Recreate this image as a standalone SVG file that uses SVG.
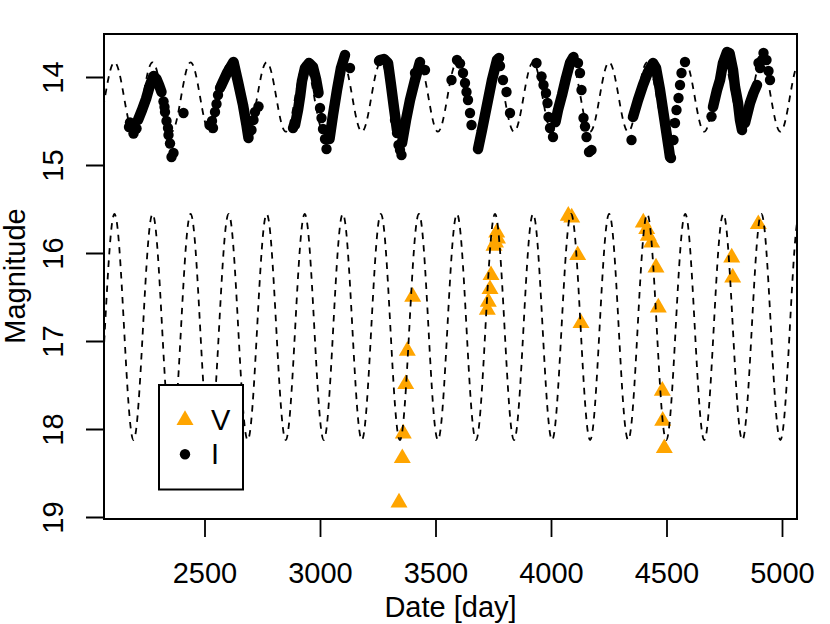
<svg xmlns="http://www.w3.org/2000/svg" xmlns:xlink="http://www.w3.org/1999/xlink" width="830" height="624" viewBox="0 0 830 624">
<style>
text{font-family:"Liberation Sans",Arial,Helvetica,sans-serif;font-size:29px;fill:#000}
.frame{fill:none;stroke:#000;stroke-width:2}
.tick{stroke:#000;stroke-width:1.8}
.curve{fill:none;stroke:#000;stroke-width:1.8;stroke-dasharray:6.5 6}
.run{fill:none;stroke:#000;stroke-width:10.5;stroke-linecap:round;stroke-linejoin:round}
.pt{fill:#000}
.v{fill:#FFA500}
</style>
<defs>
<clipPath id="plotclip"><rect x="104" y="34" width="693" height="485"/></clipPath>
<path id="tri" d="M0,-9.8 L8.5,4.9 L-8.5,4.9Z"/>
</defs>
<rect width="830" height="624" fill="#fff"/>

<g id="i-data" clip-path="url(#plotclip)">
<circle class="pt" cx="129" cy="127" r="5.2"/><circle class="pt" cx="130" cy="122.5" r="5.2"/><circle class="pt" cx="133.5" cy="133.5" r="5.2"/><circle class="pt" cx="136.5" cy="128.5" r="5.2"/>
<path class="run" d="M138,120 L142,110 L146,99 L150,85 L153.5,76 L156.5,79 L159,85 L161.5,92"/>
<circle class="pt" cx="163.5" cy="101.5" r="5.2"/><circle class="pt" cx="164.5" cy="107" r="5.2"/><circle class="pt" cx="165" cy="112" r="5.2"/><circle class="pt" cx="166.5" cy="121" r="5.2"/><circle class="pt" cx="168" cy="128" r="5.2"/><circle class="pt" cx="168.5" cy="135" r="5.2"/><circle class="pt" cx="170" cy="143.5" r="5.2"/><circle class="pt" cx="173.5" cy="153" r="5.2"/><circle class="pt" cx="171.5" cy="157" r="5.2"/><circle class="pt" cx="183.5" cy="113" r="5.2"/>
<circle class="pt" cx="209.5" cy="125" r="5.2"/><circle class="pt" cx="213" cy="128" r="5.2"/><circle class="pt" cx="212" cy="121" r="5.2"/><circle class="pt" cx="215" cy="112" r="5.2"/><circle class="pt" cx="216.5" cy="104" r="5.2"/><circle class="pt" cx="218" cy="95" r="5.2"/><circle class="pt" cx="220" cy="88" r="5.2"/>
<path class="run" d="M221,86 L227,73 L233.5,62 L238,82 L243,105 L246.5,125 L248.5,138"/>
<circle class="pt" cx="251.5" cy="130" r="5.2"/><circle class="pt" cx="253.5" cy="120" r="5.2"/><circle class="pt" cx="255" cy="112" r="5.2"/><circle class="pt" cx="258.5" cy="106.5" r="5.2"/>
<circle class="pt" cx="293" cy="128" r="5.2"/>
<path class="run" d="M295,125 L298,110 L300,97 L302,81 L305,68 L309,63 L313,67 L316,79 L318.5,93"/>
<circle class="pt" cx="320" cy="108" r="5.2"/><circle class="pt" cx="321.5" cy="118" r="5.2"/><circle class="pt" cx="323" cy="129" r="5.2"/><circle class="pt" cx="325" cy="139" r="5.2"/><circle class="pt" cx="326.5" cy="149" r="5.2"/>
<path class="run" d="M329.5,139 L333,115 L337,90 L341,68 L345,55"/>
<circle class="pt" cx="350" cy="68" r="5.2"/>
<circle class="pt" cx="379" cy="61" r="5.2"/>
<path class="run" d="M380,60 L384,59 L388,63 L391,85 L394,108 L397,130"/>
<circle class="pt" cx="395" cy="120" r="5.2"/><circle class="pt" cx="397" cy="133" r="5.2"/><circle class="pt" cx="398.5" cy="145" r="5.2"/><circle class="pt" cx="400" cy="150" r="5.2"/><circle class="pt" cx="401.5" cy="155" r="5.2"/>
<path class="run" d="M402,143 L406,120 L410,100 L415,80 L420,62"/>
<circle class="pt" cx="425" cy="70" r="5.2"/><circle class="pt" cx="415" cy="73" r="5.2"/>
<circle class="pt" cx="451.5" cy="80" r="5.2"/><circle class="pt" cx="457" cy="60" r="5.2"/><circle class="pt" cx="460" cy="63.5" r="5.2"/><circle class="pt" cx="463" cy="73" r="5.2"/><circle class="pt" cx="465" cy="83" r="5.2"/><circle class="pt" cx="466.5" cy="92" r="5.2"/><circle class="pt" cx="468" cy="100" r="5.2"/><circle class="pt" cx="470" cy="113" r="5.2"/><circle class="pt" cx="471.5" cy="125" r="5.2"/>
<path class="run" d="M478,149 L482,130 L487,105 L492,80 L497,60 L499,58"/>
<circle class="pt" cx="500" cy="66" r="5.2"/><circle class="pt" cx="503" cy="80" r="5.2"/><circle class="pt" cx="506.5" cy="92" r="5.2"/><circle class="pt" cx="510" cy="113" r="5.2"/>
<circle class="pt" cx="536.5" cy="63" r="5.2"/><circle class="pt" cx="541.5" cy="76.5" r="5.2"/><circle class="pt" cx="543.5" cy="85" r="5.2"/><circle class="pt" cx="546" cy="93" r="5.2"/><circle class="pt" cx="547.5" cy="103" r="5.2"/><circle class="pt" cx="548.5" cy="117" r="5.2"/><circle class="pt" cx="550" cy="128" r="5.2"/><circle class="pt" cx="553" cy="137" r="5.2"/>
<path class="run" d="M555.5,122 L558,110 L562,95 L566,78 L570,63 L573.5,57"/>
<circle class="pt" cx="578" cy="63" r="5.2"/><circle class="pt" cx="580" cy="73" r="5.2"/><circle class="pt" cx="581.5" cy="90" r="5.2"/><circle class="pt" cx="583.5" cy="118" r="5.2"/><circle class="pt" cx="585" cy="126.5" r="5.2"/><circle class="pt" cx="586.5" cy="137" r="5.2"/><circle class="pt" cx="591.5" cy="150" r="5.2"/><circle class="pt" cx="589" cy="152" r="5.2"/>
<circle class="pt" cx="631.5" cy="140" r="5.2"/>
<path class="run" d="M633,117 L638,100 L643,85 L648,72 L653,63 L656,68 L660,90 L663,110 L666,130 L669,150 L670,157"/>
<circle class="pt" cx="673.5" cy="140" r="5.2"/><circle class="pt" cx="671" cy="158" r="5.2"/><circle class="pt" cx="675" cy="123" r="5.2"/><circle class="pt" cx="676.5" cy="110" r="5.2"/><circle class="pt" cx="678.5" cy="98" r="5.2"/><circle class="pt" cx="680" cy="85" r="5.2"/><circle class="pt" cx="681.5" cy="73" r="5.2"/><circle class="pt" cx="685" cy="62" r="5.2"/>
<circle class="pt" cx="711.5" cy="116.5" r="5.2"/>
<path class="run" d="M713,107 L717,90 L720,80 L723,63 L727,52 L729.5,53 L733,70 L735,87 L738,103 L740,120 L742,130"/>
<path class="run" d="M745,123 L750,103 L753.5,93 L757,85"/>
<circle class="pt" cx="758.5" cy="63" r="5.2"/><circle class="pt" cx="760" cy="68" r="5.2"/><circle class="pt" cx="762" cy="60" r="5.2"/><circle class="pt" cx="763.5" cy="53" r="5.2"/><circle class="pt" cx="766.5" cy="60" r="5.2"/><circle class="pt" cx="768.5" cy="71" r="5.2"/><circle class="pt" cx="770" cy="80" r="5.2"/>
</g>

<g id="v-data">
<use xlink:href="#tri" class="v" x="412.7" y="296.8"/>
<use xlink:href="#tri" class="v" x="407.3" y="350.8"/>
<use xlink:href="#tri" class="v" x="405.7" y="384.2"/>
<use xlink:href="#tri" class="v" x="403.3" y="433.5"/>
<use xlink:href="#tri" class="v" x="402.3" y="458.2"/>
<use xlink:href="#tri" class="v" x="399" y="502.5"/>
<use xlink:href="#tri" class="v" x="496.7" y="232.5"/>
<use xlink:href="#tri" class="v" x="497.5" y="238.5"/>
<use xlink:href="#tri" class="v" x="495.5" y="242.5"/>
<use xlink:href="#tri" class="v" x="494" y="245.8"/>
<use xlink:href="#tri" class="v" x="491" y="275.2"/>
<use xlink:href="#tri" class="v" x="490" y="289.2"/>
<use xlink:href="#tri" class="v" x="488.3" y="301.8"/>
<use xlink:href="#tri" class="v" x="487.3" y="309.8"/>
<use xlink:href="#tri" class="v" x="568.3" y="215.8"/>
<use xlink:href="#tri" class="v" x="571.7" y="217.5"/>
<use xlink:href="#tri" class="v" x="577.7" y="255.2"/>
<use xlink:href="#tri" class="v" x="581" y="323.2"/>
<use xlink:href="#tri" class="v" x="643.3" y="222.5"/>
<use xlink:href="#tri" class="v" x="646.7" y="229.2"/>
<use xlink:href="#tri" class="v" x="648.3" y="235.8"/>
<use xlink:href="#tri" class="v" x="651.7" y="242.5"/>
<use xlink:href="#tri" class="v" x="656" y="267.5"/>
<use xlink:href="#tri" class="v" x="658.3" y="307.5"/>
<use xlink:href="#tri" class="v" x="662.3" y="390.8"/>
<use xlink:href="#tri" class="v" x="662.7" y="420.8"/>
<use xlink:href="#tri" class="v" x="664.3" y="448.2"/>
<use xlink:href="#tri" class="v" x="731.7" y="257.5"/>
<use xlink:href="#tri" class="v" x="732.7" y="277.5"/>
<use xlink:href="#tri" class="v" x="758.3" y="224.2"/>
</g>

<g id="model-curves" clip-path="url(#plotclip)">
<path class="curve" d="M85.96,327 c3.102,57.89 6.07,113 9.5125,113
s6.41,-55.11 9.5125,-113 s6.07,-113 9.5125,-113 s6.41,55.11 9.5125,113 s6.07,113 9.5125,113
s6.41,-55.11 9.5125,-113 s6.07,-113 9.5125,-113 s6.41,55.11 9.5125,113 s6.07,113 9.5125,113
s6.41,-55.11 9.5125,-113 s6.07,-113 9.5125,-113 s6.41,55.11 9.5125,113 s6.07,113 9.5125,113
s6.41,-55.11 9.5125,-113 s6.07,-113 9.5125,-113 s6.41,55.11 9.5125,113 s6.07,113 9.5125,113
s6.41,-55.11 9.5125,-113 s6.07,-113 9.5125,-113 s6.41,55.11 9.5125,113 s6.07,113 9.5125,113
s6.41,-55.11 9.5125,-113 s6.07,-113 9.5125,-113 s6.41,55.11 9.5125,113 s6.07,113 9.5125,113
s6.41,-55.11 9.5125,-113 s6.07,-113 9.5125,-113 s6.41,55.11 9.5125,113 s6.07,113 9.5125,113
s6.41,-55.11 9.5125,-113 s6.07,-113 9.5125,-113 s6.41,55.11 9.5125,113 s6.07,113 9.5125,113
s6.41,-55.11 9.5125,-113 s6.07,-113 9.5125,-113 s6.41,55.11 9.5125,113 s6.07,113 9.5125,113
s6.41,-55.11 9.5125,-113 s6.07,-113 9.5125,-113 s6.41,55.11 9.5125,113 s6.07,113 9.5125,113
s6.41,-55.11 9.5125,-113 s6.07,-113 9.5125,-113 s6.41,55.11 9.5125,113 s6.07,113 9.5125,113
s6.41,-55.11 9.5125,-113 s6.07,-113 9.5125,-113 s6.41,55.11 9.5125,113 s6.07,113 9.5125,113
s6.41,-55.11 9.5125,-113 s6.07,-113 9.5125,-113 s6.41,55.11 9.5125,113 s6.07,113 9.5125,113
s6.41,-55.11 9.5125,-113 s6.07,-113 9.5125,-113 s6.41,55.11 9.5125,113 s6.07,113 9.5125,113
s6.41,-55.11 9.5125,-113 s6.07,-113 9.5125,-113 s6.41,55.11 9.5125,113 s6.07,113 9.5125,113
s6.41,-55.11 9.5125,-113 s6.07,-113 9.5125,-113 s6.41,55.11 9.5125,113 s6.07,113 9.5125,113
s6.41,-55.11 9.5125,-113 s6.07,-113 9.5125,-113 s6.41,55.11 9.5125,113 s6.07,113 9.5125,113
s6.41,-55.11 9.5125,-113 s6.07,-113 9.5125,-113 s6.41,55.11 9.5125,113 s6.07,113 9.5125,113
s6.41,-55.11 9.5125,-113 s6.07,-113 9.5125,-113 s6.41,55.11 9.5125,113 s6.07,113 9.5125,113"/>
<path class="curve" d="M85.96,97 c3.102,17.78 6.07,34.7 9.5125,34.7
s6.41,-16.92 9.5125,-34.7 s6.07,-34.7 9.5125,-34.7 s6.41,16.92 9.5125,34.7 s6.07,34.7 9.5125,34.7
s6.41,-16.92 9.5125,-34.7 s6.07,-34.7 9.5125,-34.7 s6.41,16.92 9.5125,34.7 s6.07,34.7 9.5125,34.7
s6.41,-16.92 9.5125,-34.7 s6.07,-34.7 9.5125,-34.7 s6.41,16.92 9.5125,34.7 s6.07,34.7 9.5125,34.7
s6.41,-16.92 9.5125,-34.7 s6.07,-34.7 9.5125,-34.7 s6.41,16.92 9.5125,34.7 s6.07,34.7 9.5125,34.7
s6.41,-16.92 9.5125,-34.7 s6.07,-34.7 9.5125,-34.7 s6.41,16.92 9.5125,34.7 s6.07,34.7 9.5125,34.7
s6.41,-16.92 9.5125,-34.7 s6.07,-34.7 9.5125,-34.7 s6.41,16.92 9.5125,34.7 s6.07,34.7 9.5125,34.7
s6.41,-16.92 9.5125,-34.7 s6.07,-34.7 9.5125,-34.7 s6.41,16.92 9.5125,34.7 s6.07,34.7 9.5125,34.7
s6.41,-16.92 9.5125,-34.7 s6.07,-34.7 9.5125,-34.7 s6.41,16.92 9.5125,34.7 s6.07,34.7 9.5125,34.7
s6.41,-16.92 9.5125,-34.7 s6.07,-34.7 9.5125,-34.7 s6.41,16.92 9.5125,34.7 s6.07,34.7 9.5125,34.7
s6.41,-16.92 9.5125,-34.7 s6.07,-34.7 9.5125,-34.7 s6.41,16.92 9.5125,34.7 s6.07,34.7 9.5125,34.7
s6.41,-16.92 9.5125,-34.7 s6.07,-34.7 9.5125,-34.7 s6.41,16.92 9.5125,34.7 s6.07,34.7 9.5125,34.7
s6.41,-16.92 9.5125,-34.7 s6.07,-34.7 9.5125,-34.7 s6.41,16.92 9.5125,34.7 s6.07,34.7 9.5125,34.7
s6.41,-16.92 9.5125,-34.7 s6.07,-34.7 9.5125,-34.7 s6.41,16.92 9.5125,34.7 s6.07,34.7 9.5125,34.7
s6.41,-16.92 9.5125,-34.7 s6.07,-34.7 9.5125,-34.7 s6.41,16.92 9.5125,34.7 s6.07,34.7 9.5125,34.7
s6.41,-16.92 9.5125,-34.7 s6.07,-34.7 9.5125,-34.7 s6.41,16.92 9.5125,34.7 s6.07,34.7 9.5125,34.7
s6.41,-16.92 9.5125,-34.7 s6.07,-34.7 9.5125,-34.7 s6.41,16.92 9.5125,34.7 s6.07,34.7 9.5125,34.7
s6.41,-16.92 9.5125,-34.7 s6.07,-34.7 9.5125,-34.7 s6.41,16.92 9.5125,34.7 s6.07,34.7 9.5125,34.7
s6.41,-16.92 9.5125,-34.7 s6.07,-34.7 9.5125,-34.7 s6.41,16.92 9.5125,34.7 s6.07,34.7 9.5125,34.7
s6.41,-16.92 9.5125,-34.7 s6.07,-34.7 9.5125,-34.7 s6.41,16.92 9.5125,34.7 s6.07,34.7 9.5125,34.7"/>
</g>

<g id="axes">
<rect class="frame" x="104" y="34" width="693" height="485"/>
<path class="tick" d="M205,519V537M320.5,519V537M436,519V537M551.5,519V537M667,519V537M782.5,519V537"/>
<path class="tick" d="M104,77.5H86M104,165.5H86M104,253.5H86M104,341.5H86M104,429.5H86M104,517.5H86"/>
<g text-anchor="middle">
<text x="205" y="583">2500</text>
<text x="320.5" y="583">3000</text>
<text x="436" y="583">3500</text>
<text x="551.5" y="583">4000</text>
<text x="667" y="583">4500</text>
<text x="782.5" y="583">5000</text>
<text transform="translate(62.5,77.5) rotate(-90)">14</text>
<text transform="translate(62.5,165.5) rotate(-90)">15</text>
<text transform="translate(62.5,253.5) rotate(-90)">16</text>
<text transform="translate(62.5,341.5) rotate(-90)">17</text>
<text transform="translate(62.5,429.5) rotate(-90)">18</text>
<text transform="translate(62.5,517.5) rotate(-90)">19</text>
<text x="450.5" y="617">Date [day]</text>
<text transform="translate(25,276) rotate(-90)">Magnitude</text>
</g>
</g>

<g id="legend">
<rect x="159" y="385" width="84" height="104.5" fill="#fff" stroke="#000" stroke-width="2"/>
<use xlink:href="#tri" class="v" x="185" y="420"/>
<circle class="pt" cx="185" cy="454.3" r="5.2"/>
<text x="211" y="430">V</text>
<text x="211" y="464">I</text>
</g>
</svg>
